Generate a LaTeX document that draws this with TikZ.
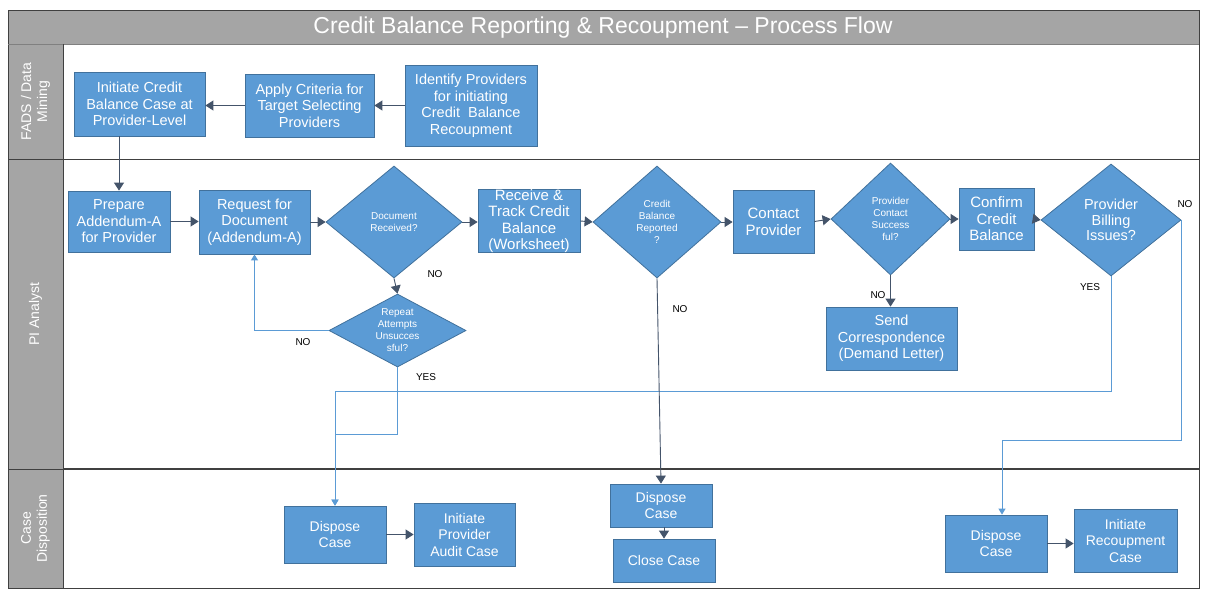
\documentclass[tikz,border=0pt]{standalone}
\usepackage{fontspec}
\setmainfont{Liberation Sans}
\usetikzlibrary{shapes.geometric,arrows.meta}
\definecolor{boxfill}{HTML}{5B9BD5}
\definecolor{boxline}{HTML}{41719C}
\definecolor{dk}{HTML}{44546A}
\definecolor{lb}{HTML}{5B9BD5}
\definecolor{hdr}{HTML}{A5A5A5}
\definecolor{framec}{HTML}{404040}
\begin{document}
\begin{tikzpicture}[x=1pt,y=-1pt,
  proc/.style={draw=boxline, fill=boxfill, text=white, align=center, inner sep=0pt, font=\fontsize{14.5}{16.5}\selectfont, line width=0.8pt},
  dec/.style={diamond, draw=boxline, fill=boxfill, text=white, align=center, inner sep=0pt, font=\fontsize{10}{12}\selectfont, line width=0.8pt},
  darr/.style={draw=dk, line width=0.9pt, -{Triangle[width=10pt,length=8pt]}},
  barr/.style={draw=lb, line width=1pt, -{Triangle[width=7pt,length=6pt]}},
  lbl/.style={font=\fontsize{10}{12}\selectfont, text=black, inner sep=0pt},
  lanetxt/.style={text=white, rotate=90, align=center, font=\fontsize{14}{16}\selectfont}
]
\useasboundingbox (0,0) rectangle (1207,595);
% frame and lanes
\fill[white] (8,10) rectangle (1199,588);
\fill[hdr] (8,10) rectangle (1199,44);
\fill[hdr] (8,44) rectangle (63,588);
\draw[framec, line width=0.8pt] (8,10) rectangle (1199,588);
\draw[gray, line width=0.8pt] (8,44) -- (1199,44);
\draw[framec, line width=0.8pt] (63,44) -- (63,588);
\draw[framec, line width=0.8pt] (8,159) -- (1199,159);
\draw[framec, line width=0.8pt] (8,469) -- (63,469);
\draw[framec, line width=2pt] (63,469) -- (1199,469);
\node[text=white, font=\fontsize{23}{27}\selectfont] (title) at (603,27.5) {Credit Balance Reporting \& Recoupment -- Process Flow};
\node[lanetxt] (l1) at (35.5,101.5) {FADS / Data\\Mining};
\node[lanetxt] (l2) at (35.5,314) {PI Analyst};
\node[lanetxt] (l3) at (35.5,528.5) {Case\\Disposition};
% FADS lane
\node[proc, minimum width=131pt, minimum height=64pt] (init) at (139.5,104) {Initiate Credit\\Balance Case at\\Provider-Level};
\node[proc, minimum width=129pt, minimum height=63pt] (apply) at (309.5,105.5) {Apply Criteria for\\Target Selecting\\Providers};
\node[proc, minimum width=132pt, minimum height=81pt] (ident) at (471,105.5) {Identify Providers\\for initiating\\Credit~~Balance\\Recoupment};
% PI lane
\node[proc, minimum width=102pt, minimum height=61pt] (prep) at (119,221.5) {Prepare\\Addendum-A\\for Provider};
\node[proc, minimum width=111pt, minimum height=64pt] (req) at (254.5,222) {Request for\\Document\\(Addendum-A)};
\node[dec, minimum width=136pt, minimum height=112pt] (docrec) at (394,222) {Document\\Received?};
\node[dec, aspect=1.9, minimum width=137pt, minimum height=73pt] (rep) at (397.5,330.5) {Repeat\\Attempts\\Unsucces\\sful?};
\node[proc, minimum width=102pt, minimum height=62pt, font=\fontsize{15}{16.5}\selectfont] (recv) at (529,221) {Receive \&\\Track Credit\\Balance\\(Worksheet)};
\node[dec, minimum width=128pt, minimum height=112pt] (cbr) at (657,222) {Credit\\Balance\\Reported\\?};
\node[proc, minimum width=81pt, minimum height=63pt, font=\fontsize{15}{17}\selectfont] (contact) at (773.5,221.5) {Contact\\Provider};
\node[dec, minimum width=119pt, minimum height=112pt] (pcs) at (890.5,219) {Provider\\Contact\\Success\\ful?};
\node[proc, minimum width=131pt, minimum height=63pt] (send) at (891.5,338.5) {Send\\Correspondence\\(Demand Letter)};
\node[proc, minimum width=75pt, minimum height=62pt, font=\fontsize{15}{16.5}\selectfont] (confirm) at (996.5,219) {Confirm\\Credit\\Balance};
\node[dec, minimum width=140pt, minimum height=112pt, font=\fontsize{14.5}{15.5}\selectfont] (pbi) at (1111,220) {Provider\\Billing\\Issues?};
% Case disposition lane
\node[proc, minimum width=102pt, minimum height=57pt, font=\fontsize{14}{16.5}\selectfont] (disp1) at (335,534.5) {Dispose\\Case};
\node[proc, minimum width=101pt, minimum height=63pt, font=\fontsize{14}{16.5}\selectfont] (audit) at (464.5,534.5) {Initiate\\Provider\\Audit Case};
\node[proc, minimum width=102pt, minimum height=43pt, font=\fontsize{14}{16.5}\selectfont] (disp2) at (661,505.5) {Dispose\\Case};
\node[proc, minimum width=102pt, minimum height=43pt, font=\fontsize{14}{16.5}\selectfont] (close) at (664,560.5) {Close Case};
\node[proc, minimum width=102pt, minimum height=57pt, font=\fontsize{14}{16.5}\selectfont] (disp3) at (996,543.5) {Dispose\\Case};
\node[proc, minimum width=103pt, minimum height=63pt, font=\fontsize{14}{16.5}\selectfont] (recoup) at (1125.5,540.5) {Initiate\\Recoupment\\Case};
% helper coordinates
\coordinate (yesA) at (335,434);
\coordinate (yesB) at (335,391);
\coordinate (noC) at (1002,440);
% connectors
\draw[darr] (ident.west) -- (ident.west -| apply.east);
\draw[darr] (apply.west) -- (apply.west -| init.east);
\draw[darr] (prep.north |- init.south) -- (prep.north);
\draw[darr] (prep.east) -- (prep.east -| req.west);
\draw[darr] (req.east) -- (docrec.west);
\draw[darr] (docrec.east) -- (docrec.east -| recv.west);
\draw[darr] (recv.east) -- (cbr.west);
\draw[darr] (cbr.east) -- (cbr.east -| contact.west);
\draw[darr] (contact.east) -- (pcs.west);
\draw[darr] (pcs.east) -- (confirm.west);
\draw[darr] (confirm.east) -- (pbi.west);
\draw[darr] (docrec.south) -- (rep.north);
\draw[barr] (rep.west) -| (req.south);
\draw[barr] (rep.south) |- (yesA) -- (disp1.north);
\draw[barr] (pbi.south) |- (yesB) -- (disp1.north);
\draw[darr] (cbr.south) -- (disp2.north);
\draw[darr] (pcs.south) -- (pcs.south |- send.north);
\draw[barr] (pbi.east) |- (noC) -- (noC |- disp3.north);
\draw[darr] (disp1.east) -- (disp1.east -| audit.west);
\draw[darr] (close.north |- disp2.south) -- (close.north);
\draw[darr] (disp3.east) -- (disp3.east -| recoup.west);
% labels
\node[lbl] (n1) at (435,274) {NO};
\node[lbl] (n2) at (303,342) {NO};
\node[lbl] (y1) at (426,377) {YES};
\node[lbl] (n3) at (680,309) {NO};
\node[lbl] (n4) at (878,295) {NO};
\node[lbl] (y2) at (1090,287) {YES};
\node[lbl] (n5) at (1185,204) {NO};
\end{tikzpicture}
\end{document}
